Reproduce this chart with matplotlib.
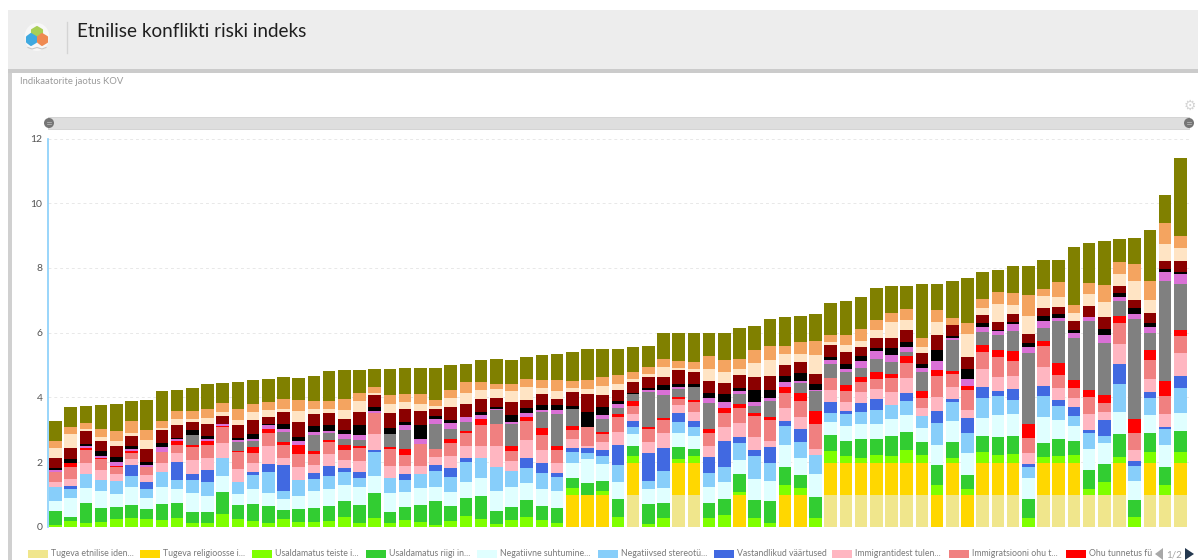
import numpy as np
import matplotlib
matplotlib.use('Agg')
import matplotlib.pyplot as plt
from matplotlib.patches import Rectangle, Polygon, Circle, Ellipse

plt.rcParams['font.family'] = ['Lato', 'DejaVu Sans']

# values per municipality, bottom of the stack first
etniline = [0]*15 + [0]*15 + [0]*8 + [.98, 0, 0, .98, .98, 0, 0] + [0]*6 + [.98]*7 + [0, .98] + [0, .98, .98, .98, 0] + [.98]*6 + [0, .98, .98, .98]
religioon = [0]*15 + [0]*15 + [0, 0, 0, 0, .98, .98, .98, 0, .98, 0, 0, .98, .98, 0, 0] + [.98, 0, 0, .98, .98, 0, 1, 1, 1, 1, 1, 1, 1, .98, 1] + [.98, 1, 1, 1, 0, 1, 1, 1, 0, 0, 1, 0, 1, 0, 1]
usald_teised = [.05, .18, .12, .13, .25, .28, .25, .2, .27, .11, .11, .38, .25, .19, .12,
                .25, .14, .15, .19, .29, .11, .27, .12, .2, .16, .05, .18, .34, .25, .09,
                .22, .29, .2, .1, .23, 0, .12, .3, .22, .08, .27, .14, .22, .27, .35,
                .1, .26, .12, .31, .22, .27, .35, .2, .15, .24, .22, .38, .24, .32, .15,
                .19, .32, .25, .27, .26, .19, .21, .24, .19, .39, .19, .31, .33, .31, .32]
usald_riik = [.45, .13, .6, .44, .37, .38, .3, .5, .47, .34, .35, .7, .41, .52, .52,
              .28, .4, .42, .46, .5, .56, .78, .33, .41, .51, .75, .46, .54, .7, .39,
              .4, .52, .45, .48, .3, .36, .3, .55, .3, .63, .45, .35, .23, .47, .52,
              .55, .58, .66, .55, .39, .65, .52, .46, .58, .48, .59, .56, .39, .62, .48,
              .43, .51, .55, .56, .61, .41, .53, .44, .57, .56, .7, .52, .58, .57, .66]
suhtumine = [.28, .57, .47, .52, .4, .58, .34, .52, .41, .6, .5, .5, .35, .46, .39,
             .33, .42, .52, .53, .5, .55, .53, .58, .45, .54, .44, .44, .49, .54, .63,
             .6, .54, .52, .52, .45, .74, .54, .52, .39, .44, .49, .44, .4, .48, .5,
             .44, .63, .62, .68, .54, .7, .38, .47, .45, .49, .54, .52, .43, .62, .65,
             .68, .56, .67, .66, .63, .81, .59, .44, .66, .65, .69, .58, .57, .67, .55]
stereotyyp = [.46, .29, .45, .35, .39, .34, .28, .47, .3, .4, .42, .55, .37, .44, .65,
              .25, .49, .38, .4, .39, .29, .72, .49, .39, .41, .49, .47, .62, .62, .73,
              .5, .45, .49, .43, .36, .21, .24, .55, .21, .26, .5, .36, .27, .45, .46,
              .53, .73, .57, .6, .48, .59, .28, .37, .38, .41, .43, .46, .38, .68, .58,
              .62, .62, .59, .46, .33, .65, .43, .33, .51, .21, .86, .47, .53, .49, .77]
vaartused = [0, .09, 0, 0, 0, .32, .2, 0, .54, .19, .37, 0, 0, .08, .25,
             .81, 0, .2, .31, .14, .19, .08, 0, .19, 0, .17, .25, .14, 0, 0,
             0, .31, .31, .14, .11, .15, .2, .61, .19, .88, .73, .25, .2, .47, .82,
             .18, .16, .48, .16, .42, 0, .36, .11, .29, .35, 0, .22, 0, .35, .12,
             .46, .32, .16, .32, .12, .32, .18, .26, .09, .51, .6, .16, .16, .07, .38]
tulen = [.15, .2, .34, .31, .22, .19, .23, .28, .28, .42, .37, .45, .39, .29, .55,
         .19, .38, .24, .37, .24, .33, .48, .36, .25, .25, .26, .4, .37, .39, .65,
         .3, .57, .39, .3, .29, .07, .24, .4, .21, .32, .45, .27, .28, .34, .44,
         .42, .41, .21, .38, .36, .19, .36, .28, .32, .31, .41, .47, .26, .43, .36,
         .25, .57, .42, .4, .32, .58, .36, .29, .49, .26, .62, .33, .43, .38, .7]
immigr_ohu = [.3, .38, .4, .34, .2, .18, .25, .33, .25, .39, .42, .49, .53, .3, .43,
              .43, .42, .33, .36, .3, .41, .64, .52, .32, .69, .24, .38, .41, .64, .67,
              .32, .58, .46, .4, .27, .56, .26, .46, .24, .41, .4, .19, .29, .41, .42,
              .46, .66, .63, .46, .49, .76, .38, .33, .31, .32, .44, .48, .31, .66, .39,
              .62, .53, .63, .48, .46, .65, .42, .3, .51, .25, .67, .53, .56, .56, .53]
ohu_tunnetus = [0, .13, .04, .03, .06, .07, 0, 0, .14, .07, .12, .04, .04, .17, .1,
                .09, .29, .09, .06, .16, .05, 0, .07, .18, 0, 0, .13, .04, .19, 0,
                .14, .13, .22, .11, .12, 0, .06, .08, .16, .06, .08, .04, .07, .14, .15,
                .13, .09, .09, .21, .25, .41, 0, .18, .16, .19, .11, .22, .2, .19, .09,
                .13, .21, .2, .31, .45, .14, .36, .27, .24, .26, .19, .42, .33, .47, .2]
hall = [0, 0, 0, 0, 0, 0, 0, 0, 0, .32, 0, 0, .28, .2, 0,
        .3, 0, .5, .22, .2, .2, 0, .4, .6, 0, .79, .31, .28, 0, .44,
        .7, 0, .5, 1.01, .54, 0, .39, .2, .21, 1.09, .71, .26, .4, .79, 0,
        .31, .21, .51, 0, .3, .61, .42, .4, .3, .4, .38, .1, .6, 0, .98,
        0, .4, .49, .6, 2.2, .4, 1.3, 1.29, 2.11, 1.61, .49, 3.1, .52, 3.1, 1.4]
orhidee = [.07, 0, .06, .08, .11, .06, .07, .16, .05, 0, .05, .06, .05, .07, .13,
           .09, .12, .11, .05, .15, .14, .07, 0, .15, .14, .13, .18, .16, .11, .05,
           .06, .11, .08, .11, 0, 0, .12, .12, 0, .07, .16, .05, 0, .16, .18,
           .09, .13, .08, .13, .06, .06, .11, .11, .2, .25, .21, .15, .11, .26, .06,
           .21, .15, .1, .23, .19, .22, .09, .14, .14, .24, .1, .16, .19, .27, .33]
must = [.05, .11, .09, .15, .14, .1, .09, .13, .03, .14, .1, 0, .08, .15, .04,
        .15, .12, .16, .18, .11, .32, .13, .18, .1, .44, .09, .11, 0, .11, .04,
        .2, .18, .14, .15, .08, .49, .24, .1, .05, .06, .15, .09, .08, .15, .25,
        .1, .37, .26, .2, .25, .16, .1, .13, .16, .09, .21, .18, .13, .36, .05,
        .3, .13, .04, .07, .12, .15, .11, .09, 0, .19, .13, .18, .12, .1, .06]
tumepunane = [.32, .36, .4, .29, .36, .3, .38, .4, .4, .25, .38, .24, .38, .42, .2,
              .37, .46, .39, .38, .35, .39, .36, .48, .39, .44, .23, .38, .41, .39, .3,
              .4, .25, .33, .19, .42, .55, .37, .33, .32, .33, .24, .44, .37, .37, .35,
              .41, .39, .42, .34, .36, .32, .39, .37, .28, .32, .31, .37, .34, .47, .33,
              .39, .25, .25, .23, .27, .26, .23, .3, .32, .38, .21, .25, .31, .25, .34]
bisque = [.29, .43, .05, .12, .14, .09, .29, .06, .19, .11, .17, .15, .18, .25, .24,
          .1, .34, .16, .13, .27, .35, .06, .27, .24, .2, .09, .28, .34, .3, .27,
          .34, .4, .2, .27, .15, .14, .28, .18, .11, .1, .3, .08, .11, .36, .33,
          .19, .44, .49, .33, .23, .6, .08, .23, .19, .25, .49, .29, .2, .39, .03,
          .69, .2, .55, .29, .54, .36, .32, .25, .38, .47, .38, .58, .4, .53, .41]
liiv = [.22, .2, .2, .25, .33, .37, .31, .22, .25, .25, .29, .25, .33, .24, .24,
        .3, .34, .24, .25, .35, .24, .2, .28, .24, .32, .19, .26, .33, .22, .16,
        .22, .25, .25, .32, .21, .29, .3, .28, .21, .2, .26, .19, .2, .42, .37,
        .3, .4, .44, .25, .39, .43, .21, .31, .36, .32, .28, .34, .27, .38, .21,
        .36, .3, .37, .36, .67, .23, .44, .24, .34, .52, .36, .54, .6, .63, .37]
oliiv = [.63, .63, .5, .74, .81, .63, .92, .92, .66, .71, .75, .63, .82, .77, .72,
         .69, .69, .76, .92, .88, .72, .56, .8, .8, .8, 1.0, .76, .56, .7, .75,
         .75, .66, .76, .81, .88, .94, .86, .82, .79, .66, .79, .89, .92, .7, .86,
         .96, .73, .85, .9, .79, .81, 1.01, 1.06, 1.0, .97, .85, .73, 1.65, .8, 1.14,
         1.37, .81, .68, .84, .89, .88, .7, 1.79, 1.25, 1.34, .73, .79, 1.55, .86, 2.4]

series = [etniline, religioon, usald_teised, usald_riik, suhtumine, stereotyyp, vaartused,
          tulen, immigr_ohu, ohu_tunnetus, hall, orhidee, must, tumepunane, bisque, liiv, oliiv]
colors = ['#f0e68c', '#ffd700', '#7fff00', '#32cd32', '#e0ffff', '#87cefa', '#4169e1',
          '#ffb6c1', '#f08080', '#ff0000', '#808080', '#da70d6', '#000000', '#8b0000',
          '#ffe4c4', '#f4a460', '#808000']

legend_labels = ['Tugeva etnilise iden...', 'Tugeva religioosse i...', 'Usaldamatus teiste i...',
                 'Usaldamatus riigi in...', 'Negatiivne suhtumine...', 'Negatiivsed stereotü...',
                 'Vastandlikud väärtused', 'Immigrantidest tulen...', 'Immigratsiooni ohu t...',
                 'Ohu tunnetus fü']
legend_x = [28, 140, 252, 366, 477, 598, 714, 832, 949, 1066]

W, H = 1198, 560
fig = plt.figure(figsize=(W/100, H/100), dpi=100, facecolor='white')

# page furniture, in pixel coordinates
bg = fig.add_axes([0, 0, 1, 1], zorder=0)
bg.set_xlim(0, W)
bg.set_ylim(H, 0)
bg.axis('off')
bg.add_patch(Rectangle((8, 10), W-8, 60, fc='#ededed', ec='none'))
bg.add_patch(Rectangle((8, 69), W-8, 4, fc='#cbcbcb', ec='none'))
bg.add_patch(Rectangle((8, 73), 3.5, H-73, fc='#d0d0d0', ec='none'))
bg.plot([66.5, 66.5], [22, 53], color='#d4d4d4', lw=1)

# logo
bg.add_patch(Ellipse((37, 37), 25, 28, fc='#f7f7f7', ec='none'))
bg.add_patch(Polygon([[37, 27], [42, 30], [42, 36], [37, 39], [32, 36], [32, 30]], fc='#a9cf55', ec='#a9cf55', lw=1.5, joinstyle='round'))
bg.add_patch(Polygon([[31, 34], [36, 37], [36, 42], [31, 45], [27, 42], [27, 37]], fc='#3fa9e0', ec='#3fa9e0', lw=1.5, joinstyle='round'))
bg.add_patch(Polygon([[42, 34], [47, 37], [47, 42], [42, 45], [38, 42], [38, 37]], fc='#ef8a52', ec='#ef8a52', lw=1.5, joinstyle='round'))
bg.plot([28, 32, 37, 42, 46], [47.5, 49, 47.5, 49, 47.5], color='#c8c8c8', lw=0.8)

bg.text(77, 31.5, 'Etnilise konflikti riski indeks', fontsize=13.6, color='#1f1f1f', va='center', ha='left')
bg.text(20, 81, 'Indikaatorite jaotus KOV', fontsize=6.8, color='#9a9a9a', va='center', ha='left')

# slider
bg.add_patch(Rectangle((48, 117), 1141, 12, fc='#dedede', ec='#cfcfcf', lw=0.6))
for cx in [49, 1189]:
    bg.add_patch(Circle((cx, 123), 5, fc='#757575', ec='none'))
    bg.plot([cx-2, cx+2], [122, 122], color='#c0c0c0', lw=0.5)
    bg.plot([cx-2, cx+2], [124, 124], color='#c0c0c0', lw=0.5)
bg.text(1190, 106, '⚙', fontsize=10, color='#d5d5d5', ha='center', va='center', family='DejaVu Sans')

# legend
for x0, lab, col in zip(legend_x, legend_labels, colors):
    bg.add_patch(Rectangle((x0, 550), 19.5, 8, fc=col, ec='none'))
    bg.text(x0+23, 554, lab, fontsize=6.3, color='#7a7a7a', ha='left', va='center')
bg.add_patch(Polygon([[1155, 554], [1163, 548], [1163, 560]], fc='#a8a8a8', ec='none'))
bg.text(1174, 554.5, '1/2', fontsize=7, color='#a0a0a0', ha='center', va='center')
bg.add_patch(Polygon([[1194, 554], [1185, 548], [1185, 560]], fc='#24384f', ec='none'))

# the chart itself
left, right, top, bottom = 48, 1190, 138.5, 526.7
ax = fig.add_axes([left/W, 1-bottom/H, (right-left)/W, (bottom-top)/H], zorder=1)
ax.patch.set_alpha(0)

x = np.arange(len(oliiv))
base = np.zeros(len(x))
for vals, col in zip(series, colors):
    vals = np.array(vals, dtype=float)
    ax.bar(x, vals, bottom=base, width=0.82, color=col, edgecolor='none', zorder=3)
    base += vals

ax.set_xlim((left-55.5)/15.2, (right-55.5)/15.2)
ax.set_ylim(0, 12)
ax.set_yticks([0, 2, 4, 6, 8, 10, 12])
ax.set_xticks([])
ax.tick_params(axis='y', length=0, labelsize=7.5, labelcolor='#555555', pad=4)
ax.grid(axis='y', color='#e8e8e8', ls=(0, (3, 3)), lw=0.7, zorder=0)
for s in ['top', 'right', 'bottom']:
    ax.spines[s].set_visible(False)
ax.spines['left'].set_color('#87cefa')
ax.spines['left'].set_linewidth(1.2)

fig.savefig('out.png', dpi=100)
